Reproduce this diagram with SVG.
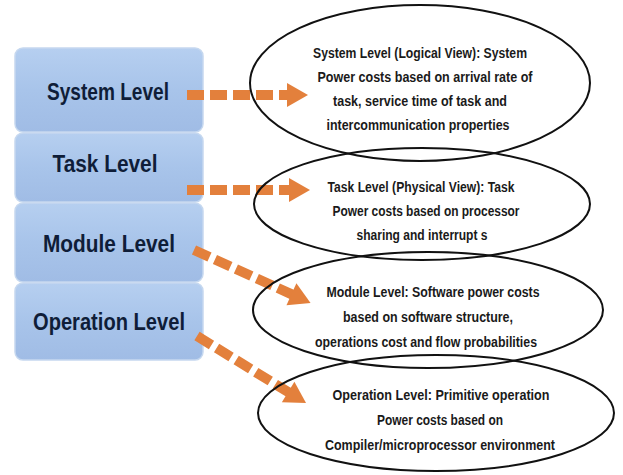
<svg xmlns="http://www.w3.org/2000/svg" width="623" height="475" viewBox="0 0 623 475">
  <defs>
    <linearGradient id="boxGrad" x1="0" y1="0" x2="0" y2="1">
      <stop offset="0" stop-color="#b6cff0"/>
      <stop offset="0.5" stop-color="#a8c4ea"/>
      <stop offset="1" stop-color="#a0bce5"/>
    </linearGradient>
    <style>
      .box { fill: url(#boxGrad); stroke: #c6d8ef; stroke-width: 1.5; }
      .boxText { font-family: "Liberation Sans", Arial, sans-serif; font-weight: bold; font-size: 24px; fill: #0f1d38; text-anchor: middle; }
      .ell { fill: none; stroke: #111; stroke-width: 2; }
      .ellText { font-family: "Liberation Sans", Arial, sans-serif; font-weight: bold; font-size: 14px; fill: #1a1a1a; text-anchor: middle; }
      .dash { stroke: #e3803c; stroke-width: 10; stroke-dasharray: 17 6; fill: none; }
      .head { fill: #e3803c; }
    </style>
  </defs>
  <rect width="623" height="475" fill="#ffffff"/>

  <g id="box-system">
    <rect class="box" x="15" y="48" width="188" height="84" rx="8"/>
    <text class="boxText" x="108" y="100" textLength="122" lengthAdjust="spacingAndGlyphs">System Level</text>
  </g>
  <g id="box-task">
    <rect class="box" x="15" y="133" width="188" height="69" rx="8"/>
    <text class="boxText" x="105" y="172" textLength="105" lengthAdjust="spacingAndGlyphs">Task Level</text>
  </g>
  <g id="box-module">
    <rect class="box" x="15" y="203" width="188" height="79" rx="8"/>
    <text class="boxText" x="109" y="252" textLength="132" lengthAdjust="spacingAndGlyphs">Module Level</text>
  </g>
  <g id="box-operation">
    <rect class="box" x="15" y="283" width="188" height="77" rx="8"/>
    <text class="boxText" x="109" y="330" textLength="152" lengthAdjust="spacingAndGlyphs">Operation Level</text>
  </g>

  <g id="connectors">
    <g id="arrow-system" transform="translate(187,95)">
      <line class="dash" x1="0" y1="0" x2="101" y2="0"/>
      <polygon class="head" points="100,-12 121,0 100,12"/>
    </g>
    <g id="arrow-task" transform="translate(187,190)">
      <line class="dash" x1="0" y1="0" x2="103" y2="0"/>
      <polygon class="head" points="102,-12 123,0 102,12"/>
    </g>
    <g id="arrow-module" transform="translate(194,250) rotate(24.4)">
      <line class="dash" x1="0" y1="0" x2="108" y2="0"/>
      <polygon class="head" points="107,-12 128,0 107,12"/>
    </g>
    <g id="arrow-operation" transform="translate(197,336) rotate(31.6)">
      <line class="dash" x1="0" y1="0" x2="108" y2="0"/>
      <polygon class="head" points="107,-12 128,0 107,12"/>
    </g>
  </g>

  <g id="ellipse-system">
    <ellipse class="ell" cx="420" cy="83" rx="170" ry="78"/>
    <text class="ellText" x="420" y="58" textLength="214" lengthAdjust="spacingAndGlyphs">System Level (Logical View): System</text>
    <text class="ellText" x="425" y="82" textLength="215" lengthAdjust="spacingAndGlyphs">Power costs based on arrival rate of</text>
    <text class="ellText" x="420" y="106" textLength="174" lengthAdjust="spacingAndGlyphs">task, service time of task and</text>
    <text class="ellText" x="418" y="130" textLength="183" lengthAdjust="spacingAndGlyphs">intercommunication  properties</text>
  </g>
  <g id="ellipse-task">
    <ellipse class="ell" cx="422" cy="204" rx="168" ry="56"/>
    <text class="ellText" x="421" y="192" textLength="187" lengthAdjust="spacingAndGlyphs">Task Level (Physical View): Task</text>
    <text class="ellText" x="426" y="216" textLength="187" lengthAdjust="spacingAndGlyphs">Power costs based on processor</text>
    <text class="ellText" x="422" y="240" textLength="131" lengthAdjust="spacingAndGlyphs">sharing and interrupt s</text>
  </g>
  <g id="ellipse-module">
    <ellipse class="ell" cx="428" cy="310" rx="175" ry="58"/>
    <text class="ellText" x="433" y="297" textLength="213" lengthAdjust="spacingAndGlyphs">Module Level: Software power costs</text>
    <text class="ellText" x="428" y="322" textLength="170" lengthAdjust="spacingAndGlyphs">based on software structure,</text>
    <text class="ellText" x="426" y="347" textLength="222" lengthAdjust="spacingAndGlyphs">operations cost and flow probabilities</text>
  </g>
  <g id="ellipse-operation">
    <ellipse class="ell" cx="436" cy="413" rx="178" ry="58"/>
    <text class="ellText" x="441" y="400" textLength="217" lengthAdjust="spacingAndGlyphs">Operation Level: Primitive  operation</text>
    <text class="ellText" x="440" y="425" textLength="126" lengthAdjust="spacingAndGlyphs">Power costs based on</text>
    <text class="ellText" x="440" y="450" textLength="230" lengthAdjust="spacingAndGlyphs">Compiler/microprocessor  environment</text>
  </g>
</svg>
